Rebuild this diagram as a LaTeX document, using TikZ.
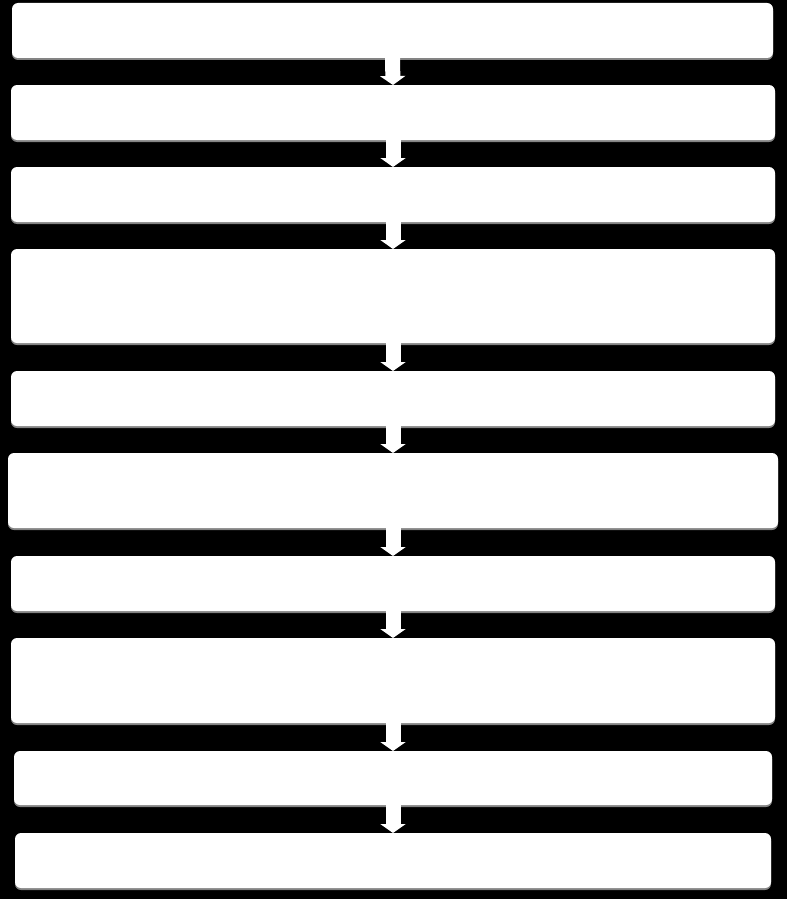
\documentclass[tikz,border=0pt]{standalone}
\usepackage{tikz}
\usetikzlibrary{arrows.meta, shadows}

\tikzset{
	stage/.style={draw=none, fill=white, rounded corners=6pt, inner sep=0pt, outer sep=0pt,
		drop shadow={shadow xshift=0pt, shadow yshift=-2pt, fill=gray!70, opacity=0.8}},
	flow/.style={white, line width=15pt, -{Triangle[length=9pt, width=25pt]}}
}

\begin{document}
\begin{tikzpicture}[x=1pt, y=-1pt]
	\fill[black] (0, 0) rectangle (787, 899);

	\node[stage, minimum width=761pt, minimum height=55pt] (s1) at (392.5, 30.5) {};
	\node[stage, minimum width=764pt, minimum height=55pt] (s2) at (393, 112.5) {};
	\node[stage, minimum width=764pt, minimum height=55pt] (s3) at (393, 194.5) {};
	\node[stage, minimum width=764pt, minimum height=94pt] (s4) at (393, 296) {};
	\node[stage, minimum width=764pt, minimum height=55pt] (s5) at (393, 398.5) {};
	\node[stage, minimum width=770pt, minimum height=75pt] (s6) at (393, 490.5) {};
	\node[stage, minimum width=764pt, minimum height=55pt] (s7) at (393, 583.5) {};
	\node[stage, minimum width=764pt, minimum height=85pt] (s8) at (393, 680.5) {};
	\node[stage, minimum width=758pt, minimum height=54pt] (s9) at (393, 778) {};
	\node[stage, minimum width=756pt, minimum height=55pt] (s10) at (393, 860.5) {};

	\draw[flow] (s1.south) -- (s2.north);
	\draw[flow] (s2.south) -- (s3.north);
	\draw[flow] (s3.south) -- (s4.north);
	\draw[flow] (s4.south) -- (s5.north);
	\draw[flow] (s5.south) -- (s6.north);
	\draw[flow] (s6.south) -- (s7.north);
	\draw[flow] (s7.south) -- (s8.north);
	\draw[flow] (s8.south) -- (s9.north);
	\draw[flow] (s9.south) -- (s10.north);
\end{tikzpicture}
\end{document}
